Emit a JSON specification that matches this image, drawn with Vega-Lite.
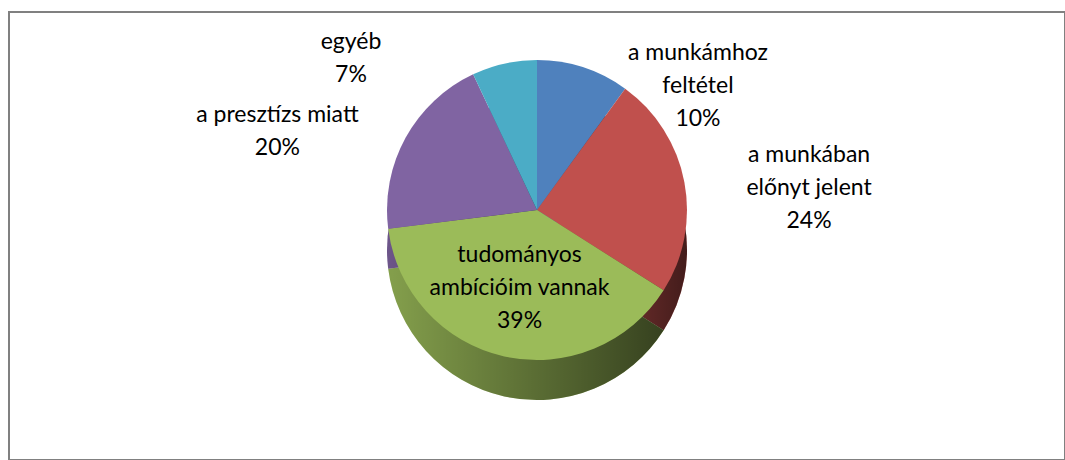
{
  "$schema": "https://vega.github.io/schema/vega-lite/v6.json",
  "width": 1056,
  "height": 448,
  "autosize": {"type": "none"},
  "padding": {"left": 9, "top": 12, "right": 0, "bottom": 0},
  "background": "white",
  "config": {
    "view": {"stroke": null},
    "text": {"font": "Lato", "fontSize": 23, "lineHeight": 33, "fill": "#000000", "lineBreak": "\n"}
  },
  "data": {
    "values": [
      {"category": "a munkámhoz feltétel", "label": "a munkámhoz\nfeltétel\n10%", "value": 10, "order": 1},
      {"category": "a munkában előnyt jelent", "label": "a munkában\nelőnyt jelent\n24%", "value": 24, "order": 2},
      {"category": "tudományos ambícióim vannak", "label": "tudományos\nambícióim vannak\n39%", "value": 39, "order": 3},
      {"category": "a presztízs miatt", "label": "a presztízs miatt\n20%", "value": 20, "order": 4},
      {"category": "egyéb", "label": "egyéb\n7%", "value": 7, "order": 5}
    ]
  },
  "layer": [
    {
      "mark": {"type": "rect", "fill": "white", "fillOpacity": 0, "stroke": "#808080", "strokeWidth": 2},
      "encoding": {}
    },
    {
      "encoding": {
        "theta": {"field": "value", "type": "quantitative", "stack": true},
        "order": {"field": "order", "type": "quantitative"},
        "color": {
          "field": "category",
          "type": "nominal",
          "legend": null,
          "scale": {
            "domain": ["a munkámhoz feltétel", "a munkában előnyt jelent", "tudományos ambícióim vannak", "a presztízs miatt", "egyéb"],
            "range": ["#4F81BD", "#C0504D", "#9BBB59", "#8064A2", "#4BACC6"]
          }
        }
      },
      "layer": [
        {
          "mark": {"type": "arc", "outerRadius": 150, "yOffset": 14}
        },
        {
          "mark": {
            "type": "arc",
            "outerRadius": 150,
            "yOffset": 14,
            "fill": {
              "gradient": "linear",
              "x1": 0, "y1": 0, "x2": 1, "y2": 0,
              "stops": [
                {"offset": 0, "color": "rgba(0,0,0,0.15)"},
                {"offset": 1, "color": "rgba(0,0,0,0.65)"}
              ]
            }
          },
          "encoding": {"color": {"value": null}}
        },
        {
          "mark": {"type": "arc", "outerRadius": 150, "yOffset": -26}
        },
        {
          "mark": {"type": "text", "radius": 80, "yOffset": -59, "align": "center", "baseline": "middle"},
          "encoding": {
            "color": {"value": "#000000"},
            "text": {"condition": {"test": "datum.order == 3", "field": "label"}, "value": ""}
          }
        },
        {
          "mark": {"type": "text", "radius": 165, "yOffset": -26, "dx": 110, "align": "center", "baseline": "middle"},
          "encoding": {
            "color": {"value": "#000000"},
            "text": {"condition": {"test": "datum.order == 1", "field": "label"}, "value": ""}
          }
        },
        {
          "mark": {"type": "text", "radius": 165, "yOffset": -50, "dx": 110, "align": "center", "baseline": "middle"},
          "encoding": {
            "color": {"value": "#000000"},
            "text": {"condition": {"test": "datum.order == 2", "field": "label"}, "value": ""}
          }
        },
        {
          "mark": {"type": "text", "radius": 165, "yOffset": -42, "dx": -115, "align": "center", "baseline": "middle"},
          "encoding": {
            "color": {"value": "#000000"},
            "text": {"condition": {"test": "datum.order == 4", "field": "label"}, "value": ""}
          }
        },
        {
          "mark": {"type": "text", "radius": 165, "yOffset": -33, "dx": -150, "align": "center", "baseline": "middle"},
          "encoding": {
            "color": {"value": "#000000"},
            "text": {"condition": {"test": "datum.order == 5", "field": "label"}, "value": ""}
          }
        }
      ]
    }
  ]
}
